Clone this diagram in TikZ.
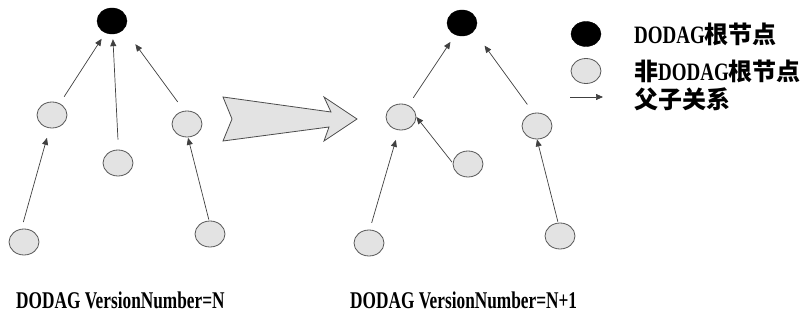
\documentclass[tikz,border=0pt]{standalone}
\usepackage{fontspec}
\setmainfont{Liberation Serif}[FakeStretch=0.72]
\newfontfamily\legfont{Liberation Serif}[FakeStretch=0.76]
\newfontfamily\cjk{Noto Sans CJK SC}
\usetikzlibrary{arrows.meta,shapes.geometric}
\newcommand{\zh}[1]{{\fontsize{24}{24}\selectfont\cjk\bfseries #1}}
\tikzset{
  root/.style={ellipse, fill=black, draw=black, minimum width=30pt, minimum height=26pt, inner sep=0pt},
  plain/.style={ellipse, fill=black!11, draw=black!65, line width=0.8pt, minimum width=30pt, minimum height=26pt, inner sep=0pt},
  link/.style={draw=black!75, line width=0.7pt, -{Triangle[length=7pt,width=6pt]}},
  lab/.style={anchor=west, inner sep=0pt, font=\fontsize{25}{25}\selectfont\legfont\bfseries},
  captext/.style={anchor=west, inner sep=0pt, font=\fontsize{24}{24}\selectfont\bfseries},
}
\begin{document}
\begin{tikzpicture}[x=1pt,y=-1pt]
\useasboundingbox (0,0) rectangle (806,320);
\fill[white] (0,0) rectangle (806,320);
% left tree
\node[root]  (A) at (112,21) {};
\node[plain] (B) at (52,115) {};
\node[plain] (C) at (118,163) {};
\node[plain] (D) at (187,124) {};
\node[plain] (E) at (24,242) {};
\node[plain] (F) at (210,234) {};
\draw[link, shorten <=8pt, shorten >=7pt] (B.56) -- (A.-119);
\draw[link, shorten <=10pt, shorten >=5pt] (C.88) -- (A.-87);
\draw[link, shorten <=11pt, shorten >=19pt] (D.102) -- (A.-33);
\draw[link, shorten <=7pt, shorten >=10pt] (E.101) -- (B.-100);
\draw[link, shorten <=1pt, shorten >=0.5pt] (F.94) -- (D.-86);
% big arrow
\draw[draw=black!70, fill=black!11, line width=0.8pt, line join=miter]
  (223,97) -- (331,112) -- (324,97) -- (357,119) -- (324,141) -- (329,127) -- (223,141) -- (232,119) -- cycle;
% right tree
\node[root]  (A2) at (462,23) {};
\node[plain] (B2) at (401,117) {};
\node[plain] (C2) at (468,164) {};
\node[plain] (D2) at (537,126) {};
\node[plain] (E2) at (369,243) {};
\node[plain] (F2) at (560,236) {};
\draw[link, shorten <=9pt, shorten >=8.5pt] (B2.58) -- (A2.-120);
\draw[link, shorten <=10.5pt, shorten >=18pt] (D2.105) -- (A2.-34);
\draw[link, shorten <=1pt, shorten >=0pt] (C2.176) -- (B2.0);
\draw[link, shorten <=7pt, shorten >=10pt] (E2.87) -- (B2.-100);
\draw[link, shorten <=1pt, shorten >=0pt] (F2.98) -- (D2.-90);
% legend
\node[root, minimum height=25pt] (L1) at (586,34) {};
\node[plain, minimum height=25pt] (L2) at (586,71) {};
\coordinate (la1) at (570,97);
\coordinate (la2) at (603,97);
\draw[link] (la1) -- (la2);
\node[lab] (t1) at (634,34) {DODAG\zh{根节点}};
\node[lab] (t2) at (634,71) {\zh{非}DODAG\zh{根节点}};
\node[lab] (t3) at (634,99) {\zh{父子关系}};
% captions
\node[captext] (c1) at (16,300) {DODAG VersionNumber=N};
\node[captext] (c2) at (350,300) {DODAG VersionNumber=N+1};
\end{tikzpicture}
\end{document}
